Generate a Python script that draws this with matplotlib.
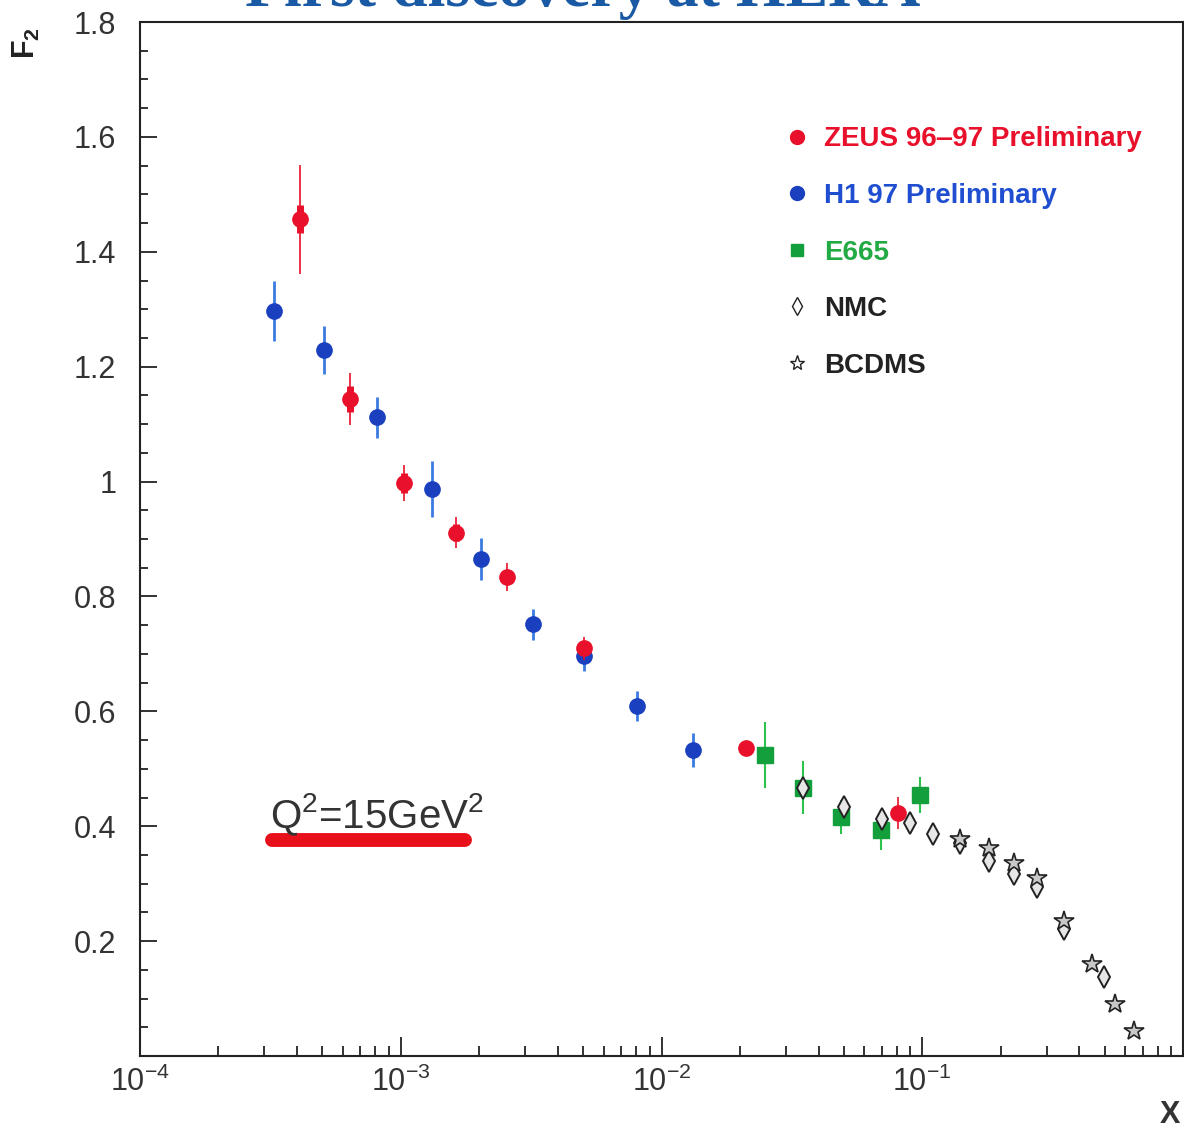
import matplotlib
matplotlib.use("Agg")
import matplotlib.pyplot as plt
from matplotlib.lines import Line2D
from matplotlib.ticker import LogLocator, NullFormatter, MultipleLocator

plt.rcParams['font.family'] = ['Liberation Sans', 'DejaVu Sans']
plt.rcParams['mathtext.default'] = 'regular'

# ZEUS 96-97 preliminary (stat = thick bar, tot = thin bar)
zeus_x = [4.1e-4, 6.4e-4, 1.03e-3, 1.63e-3, 2.56e-3, 5.05e-3, 2.1e-2, 8.1e-2]
zeus_y = [1.457, 1.144, 0.998, 0.911, 0.834, 0.710, 0.537, 0.423]
zeus_stat = [0.025, 0.023, 0.017, 0.015, 0.012, 0.010, 0.006, 0.010]
zeus_tot = [0.095, 0.045, 0.031, 0.027, 0.024, 0.020, 0.008, 0.028]

# H1 97 preliminary
h1_x = [3.26e-4, 5.1e-4, 8.14e-4, 1.32e-3, 2.04e-3, 3.22e-3, 5.05e-3, 8.05e-3, 1.32e-2]
h1_y = [1.297, 1.229, 1.112, 0.987, 0.865, 0.752, 0.696, 0.609, 0.533]
h1_err = [0.053, 0.041, 0.036, 0.048, 0.036, 0.027, 0.025, 0.026, 0.030]

# E665
e665_x = [2.49e-2, 3.48e-2, 4.9e-2, 6.92e-2, 9.84e-2]
e665_y = [0.524, 0.467, 0.416, 0.393, 0.454]
e665_err = [0.058, 0.046, 0.030, 0.035, 0.031]

# NMC
nmc_x = [3.48e-2, 4.99e-2, 7.03e-2, 9.0e-2, 0.110, 0.140, 0.181, 0.225, 0.275, 0.350, 0.498]
nmc_y = [0.467, 0.433, 0.413, 0.406, 0.386, 0.371, 0.339, 0.317, 0.294, 0.221, 0.138]

# BCDMS
bcdms_x = [0.140, 0.181, 0.225, 0.275, 0.350, 0.448, 0.548, 0.649]
bcdms_y = [0.378, 0.362, 0.336, 0.310, 0.235, 0.160, 0.0905, 0.0435]

yticks = [0.2, 0.4, 0.6, 0.8, 1.0, 1.2, 1.4, 1.6, 1.8]
ylabels = ['0.2', '0.4', '0.6', '0.8', '1', '1.2', '1.4', '1.6', '1.8']

red = '#e8102a'
blue = '#1a3fbf'
lblue = '#3b7be0'
green = '#13a03c'

fig = plt.figure(figsize=(11.84, 11.31), dpi=100)
ax = fig.add_axes([0.1182, 0.0663, 0.881, 0.9142])

ax.errorbar(h1_x, h1_y, yerr=h1_err, fmt='o', ms=11, mfc=blue, mec=blue,
            ecolor=lblue, elinewidth=2, capsize=0, zorder=3)
ax.errorbar(zeus_x, zeus_y, yerr=zeus_tot, fmt='none', ecolor=red,
            elinewidth=1.2, capsize=0, zorder=4)
ax.errorbar(zeus_x, zeus_y, yerr=zeus_stat, fmt='o', ms=11, mfc=red, mec=red,
            ecolor=red, elinewidth=5, capsize=0, zorder=4)
ax.errorbar(e665_x, e665_y, yerr=e665_err, fmt='s', ms=11, mfc=green, mec=green,
            ecolor='#2cc24c', elinewidth=1.5, capsize=0, zorder=3)
ax.plot(nmc_x, nmc_y, 'd', ms=11, mfc='#e6e6e6', mec='#222222', mew=1.4,
        ls='none', zorder=5)
ax.plot(bcdms_x, bcdms_y, '*', ms=15, mfc='#c8c8c8', mec='#222222', mew=1.2,
        ls='none', zorder=6)

ax.set_xscale('log')
ax.set_xlim(1e-4, 1)
ax.set_ylim(0, 1.8)
ax.set_yticks(yticks)
ax.set_yticklabels(ylabels)
ax.yaxis.set_minor_locator(MultipleLocator(0.05))
ax.xaxis.set_minor_locator(LogLocator(base=10, subs=range(2, 10), numticks=20))
ax.xaxis.set_minor_formatter(NullFormatter())
ax.set_xticks([1e-4, 1e-3, 1e-2, 1e-1])
ax.set_xticklabels(['$10^{-4}$', '$10^{-3}$', '$10^{-2}$', '$10^{-1}$'])

ax.tick_params(which='both', direction='in', top=False, right=False,
               color='#222222', width=1.3, labelcolor='#333333', labelsize=22)
ax.tick_params(axis='y', which='major', length=12, pad=17)
ax.tick_params(axis='y', which='minor', length=6)
ax.tick_params(axis='x', which='major', length=14, pad=8)
ax.tick_params(axis='x', which='minor', length=7)
for s in ax.spines.values():
    s.set_linewidth(1.5)
    s.set_color('#222222')

handles = [
    Line2D([], [], marker='o', ls='none', ms=10, mfc=red, mec=red),
    Line2D([], [], marker='o', ls='none', ms=10, mfc=blue, mec=blue),
    Line2D([], [], marker='s', ls='none', ms=9, mfc=green, mec=green),
    Line2D([], [], marker='d', ls='none', ms=9, mfc='white', mec='#222222', mew=1),
    Line2D([], [], marker='*', ls='none', ms=11, mfc='white', mec='#222222', mew=1),
]
labels = ['ZEUS 96\u201297 Preliminary', 'H1 97 Preliminary', 'E665', 'NMC', 'BCDMS']
leg = ax.legend(handles, labels, loc='upper left', bbox_to_anchor=(0.617, 0.899),
                frameon=False, borderpad=0, borderaxespad=0, handlelength=1.0,
                handletextpad=0.45, labelspacing=1.1,
                prop={'size': 20, 'weight': 'bold'})
for t, c in zip(leg.get_texts(), [red, '#1f4fd0', '#22aa44', '#222222', '#222222']):
    t.set_color(c)

ax.text(0.1246, 0.2205, 'Q$^2$=15GeV$^2$', transform=ax.transAxes, fontsize=29,
        color='#333333', va='baseline', ha='left')
ax.plot([0.127, 0.312], [0.209, 0.209], transform=ax.transAxes, color='#e8101a',
        lw=10, solid_capstyle='round', zorder=2)

fig.text(0.492, 0.9947, 'First discovery at HERA', ha='center', va='baseline',
         fontsize=46, fontweight='bold', family='Liberation Serif', color='#1a5aa5')
fig.text(0.022, 0.962, 'F$_2$', rotation=90, fontsize=22, fontweight='bold',
         ha='center', va='center', color='#222222')
fig.text(0.988, 0.014, 'X', fontsize=22, fontweight='bold', ha='center',
         va='center', color='#333333')

fig.savefig('out.png', dpi=100, facecolor='white')
